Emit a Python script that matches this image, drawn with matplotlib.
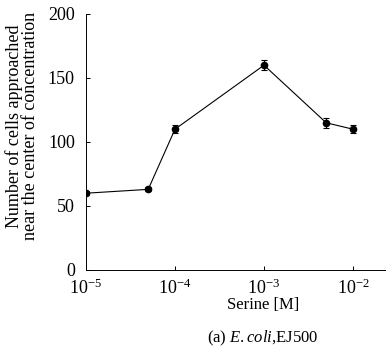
import numpy as np
import matplotlib
matplotlib.use("Agg")
import matplotlib.pyplot as plt
from matplotlib.ticker import NullLocator

plt.rcParams['font.family'] = ['Liberation Serif', 'DejaVu Serif']
plt.rcParams['mathtext.fontset'] = 'custom'
plt.rcParams['mathtext.rm'] = 'Liberation Serif'
plt.rcParams['mathtext.it'] = 'Liberation Serif:italic'

# serine concentration [M] and cell counts
serine = [1e-5, 5e-5, 1e-4, 1e-3, 5e-3, 1e-2]
cells = [60, 63, 110, 160, 115, 110]
cells_err = [1.5, 1.5, 3, 4, 4, 3]

fig = plt.figure(figsize=(3.86, 3.62), dpi=100)
ax = fig.add_axes([86 / 386, 92 / 362, 299 / 386, 256 / 362])

ax.errorbar(serine, cells, yerr=cells_err, color='black', lw=0.8,
            marker='o', ms=4.5, capsize=2.5, elinewidth=0.8, capthick=0.8)

ax.set_xscale('log')
ax.set_xlim(1e-5, 10 ** (-5 + 299 / 89))
ax.set_ylim(0, 200)
ax.set_yticks([0, 50, 100, 150, 200])
ax.set_xticks([1e-5, 1e-4, 1e-3, 1e-2])
ax.xaxis.set_minor_locator(NullLocator())

for s in ['top', 'right']:
    ax.spines[s].set_visible(False)
for s in ['left', 'bottom']:
    ax.spines[s].set_linewidth(0.7)
ax.tick_params(direction='in', length=3, width=0.7, labelsize=13)
ax.tick_params(axis='y', pad=8)
ax.tick_params(axis='x', pad=6)

fig.text(263 / 386, 1 - 305 / 362, 'Serine [M]', ha='center', va='center', fontsize=12)
fig.text(263 / 386, 1 - 338 / 362, r'(a) $\mathit{E.coli}$,EJ500', ha='center', va='center', fontsize=12)
fig.text(22 / 386, 1 - 126 / 362, 'Number of cells approached\nnear the center of concentration',
         rotation=90, ha='center', va='center', fontsize=13, linespacing=0.95)

fig.savefig('out.png', dpi=100)
